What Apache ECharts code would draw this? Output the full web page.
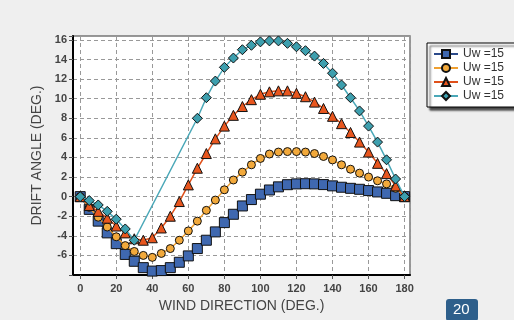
<!DOCTYPE html>
<html>
<head>
<meta charset="utf-8">
<script src="https://cdn.jsdelivr.net/npm/echarts@6/dist/echarts.min.js"></script>
<style>
html,body{margin:0;padding:0;background:#efefef;}
#c{width:514px;height:320px;}
</style>
</head>
<body>
<div id="c"></div>
<script>
var windDir = [0,5,10,15,20,25,30,35,40,45,50,55,60,65,70,75,80,85,90,95,100,105,110,115,120,125,130,135,140,145,150,155,160,165,170,175,180];
var seriesNames = ['Uw =15', 'Uw =15 ', 'Uw =15  ', 'Uw =15   '];
var blueVals = [0,-1.3,-2.5,-3.7,-4.8,-5.9,-6.6,-7.25,-7.6,-7.55,-7.25,-6.7,-6.05,-5.3,-4.45,-3.6,-2.65,-1.8,-0.95,-0.3,0.25,0.68,1.0,1.22,1.3,1.32,1.3,1.23,1.1,0.96,0.85,0.75,0.62,0.48,0.34,0.1,0];
var orangeVals = [0,-1.1,-2.1,-3.1,-4.1,-5.0,-5.6,-6.0,-6.2,-5.8,-5.3,-4.45,-3.5,-2.5,-1.4,-0.35,0.7,1.7,2.5,3.25,3.9,4.35,4.55,4.6,4.6,4.55,4.4,4.1,3.75,3.25,2.8,2.4,2.0,1.62,1.3,0.85,0];
var redVals = [0,-0.9,-1.5,-2.2,-3.0,-3.7,-4.3,-4.45,-4.2,-3.2,-2.0,-0.5,1.2,2.9,4.4,5.9,7.2,8.3,9.2,9.9,10.45,10.7,10.8,10.8,10.55,10.2,9.65,9.0,8.2,7.45,6.55,5.57,4.55,3.4,2.35,1.1,0];
var tealVals = [0,-0.4,-0.85,-1.5,-2.3,-3.3,-4.45,null,null,null,null,null,null,8.0,10.1,11.8,13.2,14.15,15.0,15.45,15.8,15.9,15.9,15.65,15.3,14.9,14.35,13.6,12.6,11.4,10.1,8.75,7.2,5.57,3.76,1.8,0];

function pairs(vals){ return windDir.map(function(x,i){ return [x, vals[i]]; }); }

var chart = echarts.init(document.getElementById('c'), null, {renderer:'canvas'});
var font = 'Liberation Sans, Arial, sans-serif';
function mk(name, vals, symbol, size, fill, lineColor, z){
  return {
    name: name, type: 'line', data: pairs(vals), symbol: symbol, symbolSize: size,
    connectNulls: true, z: z,
    lineStyle: {color: lineColor, width: 1.5},
    itemStyle: {color: fill, borderColor: '#111', borderWidth: 1},
    emphasis: {disabled: true}
  };
}
chart.setOption({
  backgroundColor: '#efefef',
  animation: false,
  grid: {left: 73, top: 36, right: 104, bottom: 45, show: true, backgroundColor: '#fff', borderColor: '#777', borderWidth: 1.5},
  legend: {
    left: 427, top: 43, orient: 'vertical', itemGap: 2, itemWidth: 24, itemHeight: 10,
    padding: [5, 8, 5, 6],
    backgroundColor: '#fff', borderColor: '#000', borderWidth: 1,
    shadowColor: 'rgba(0,0,0,0.7)', shadowOffsetX: 3, shadowOffsetY: 3, shadowBlur: 2,
    textStyle: {fontFamily: font, fontSize: 12, color: '#333'},
    data: seriesNames
  },
  xAxis: {
    type: 'value', min: -4, max: 183, splitNumber: 9, minInterval: 20, maxInterval: 20,
    name: 'WIND DIRECTION (DEG.)', nameLocation: 'middle', nameGap: 22,
    nameTextStyle: {fontFamily: font, fontSize: 14, color: '#444'},
    axisLine: {show: true, onZero: false, lineStyle: {color: '#000', width: 2}},
    axisTick: {show: true, inside: false, length: 4, lineStyle: {color: '#555'}},
    axisLabel: {showMinLabel: false, showMaxLabel: false, fontFamily: font, fontSize: 11, fontWeight: 'bold', color: '#444', margin: 8},
    splitLine: {show: true, lineStyle: {color: '#999', type: [4, 3], width: 1}}
  },
  yAxis: {
    type: 'value', min: -8, max: 16.4, interval: 2,
    name: 'DRIFT ANGLE (DEG.)', nameLocation: 'middle', nameGap: 28,
    nameTextStyle: {fontFamily: font, fontSize: 14, color: '#444'},
    axisLine: {show: true, onZero: false, lineStyle: {color: '#000', width: 2}},
    axisTick: {show: true, inside: false, length: 4, lineStyle: {color: '#555'}},
    axisLabel: {fontFamily: font, fontSize: 11, fontWeight: 'bold', color: '#444', margin: 6,
      formatter: function(v){ return (v < -7 || v > 16.1) ? '' : String(v); }},
    splitLine: {show: true, lineStyle: {color: '#999', type: [4, 3], width: 1}}
  },
  series: [
    mk(seriesNames[0], blueVals, 'rect', 10, '#3f68b0', '#2b4a8a', 2),
    mk(seriesNames[1], orangeVals, 'circle', 8, '#f2a93b', '#f0a030', 3),
    mk(seriesNames[2], redVals, 'triangle', 10, '#e8561e', '#e0501a', 4),
    mk(seriesNames[3], tealVals, 'diamond', 10, '#3d9fae', '#4aa8b8', 5)
  ],
  graphic: [
    {type: 'rect', left: 446, top: 299, shape: {width: 32, height: 22, r: 3}, style: {fill: '#2e5f8b'}},
    {type: 'text', left: 453, top: 302, style: {text: '20', fill: '#fff', font: '15px ' + font}}
  ]
});
</script>
</body>
</html>
